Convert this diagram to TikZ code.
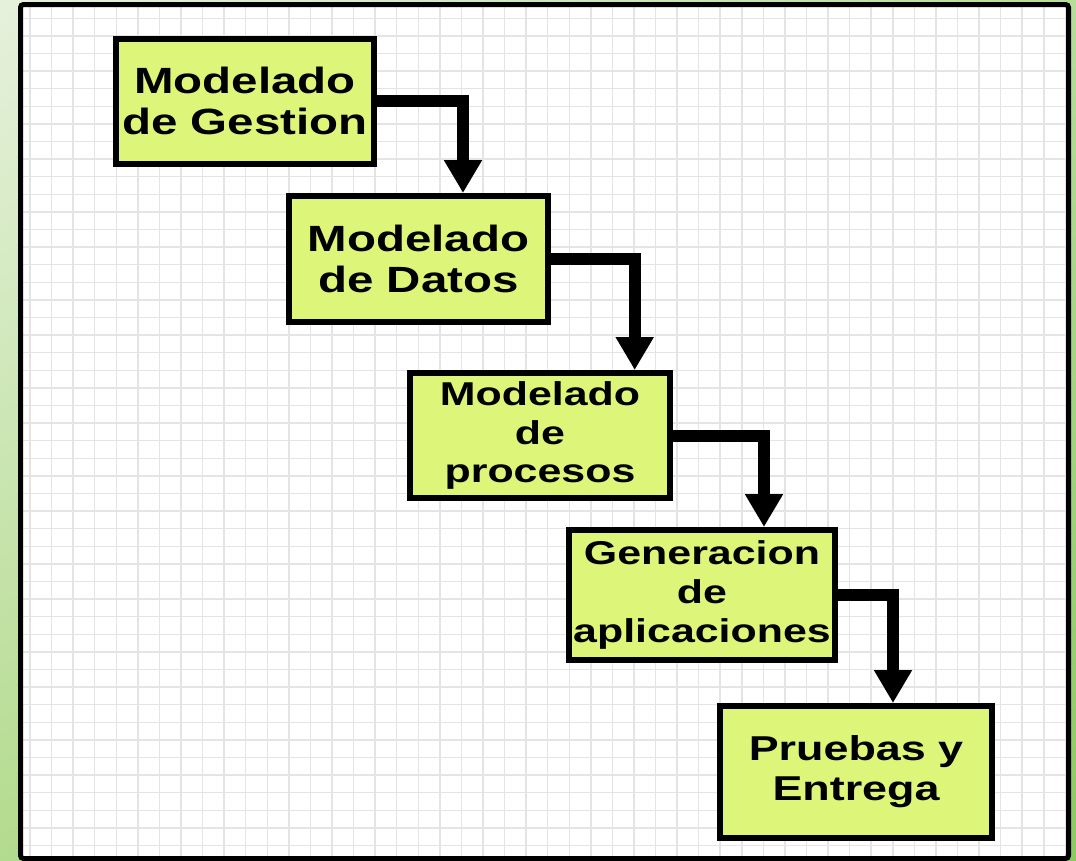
\documentclass[tikz,border=0pt]{standalone}
\usepackage{fontspec}
\usepackage{tikz}
\usetikzlibrary{arrows.meta,shadings}
\newfontfamily\boxfont[FakeStretch=1.3]{Liberation Sans}
\definecolor{boxgreen}{RGB}{221,246,122}
\definecolor{gridgray}{RGB}{228,228,228}
\definecolor{pagetl}{RGB}{230,241,220}
\definecolor{pagetr}{RGB}{181,222,152}
\definecolor{pagebl}{RGB}{179,219,142}
\definecolor{pagebr}{RGB}{139,203,94}

\begin{document}
\begin{tikzpicture}[x=1pt, y=-1pt,
    stage/.style 2 args={draw=black, line width=6pt, fill=boxgreen, align=center, inner sep=0pt,
        font=\boxfont\bfseries\fontsize{#1}{#2}\selectfont},
    flow/.style={line width=12pt, line join=miter, -{Triangle[width=36pt,length=33pt]}}]
    \useasboundingbox (0,0) rectangle (1076,860);

    % Green page behind the sheet
    \shade[upper left=pagetl, upper right=pagetr, lower left=pagebl, lower right=pagebr]
        (0,0) rectangle (1076,860);
    \fill[white] (20.5,4.5) rectangle (1068.5,858.5);

    % Drawing the squared paper
    \foreach \i in {0,...,48}
        \draw[gridgray, line width=1.5pt] ({30+21.57*\i},7) -- ({30+21.57*\i},856);
    \foreach \j in {0,...,47}
        \draw[gridgray, line width=1.5pt] (23,{18.3+17.6*\j}) -- (1066,{18.3+17.6*\j});
    \draw[line width=5pt, rounded corners=3pt] (20.5,4.5) rectangle (1068.5,858.5);

    % The five stages, going down like steps
    \node[stage={36.5}{41.5}, minimum width=258, minimum height=125] (gestion) at (245,101) {Modelado\\de Gestion};
    \node[stage={36.5}{41.5}, minimum width=259, minimum height=126] (datos) at (418.5,259) {Modelado\\de Datos};
    \node[stage={33}{38.5}, minimum width=260, minimum height=125] (procesos) at (540,435.5) {Modelado\\de\\procesos};
    \node[stage={33}{39}, minimum width=266, minimum height=130] (aplicaciones) at (702,595) {Generacion\\de\\aplicaciones};
    \node[stage={34.5}{40}, minimum width=272, minimum height=132] (entrega) at (856,772) {Pruebas y\\Entrega};

    % Arrows from one stage to the next
    \draw[flow] (gestion.east) -| ([xshift=44.5pt]datos.north);
    \draw[flow] (datos.east) -| ([xshift=94.7pt]procesos.north);
    \draw[flow] (procesos.east) -| ([xshift=62pt]aplicaciones.north);
    \draw[flow] (aplicaciones.east) -| ([xshift=37pt]entrega.north);
\end{tikzpicture}
\end{document}
